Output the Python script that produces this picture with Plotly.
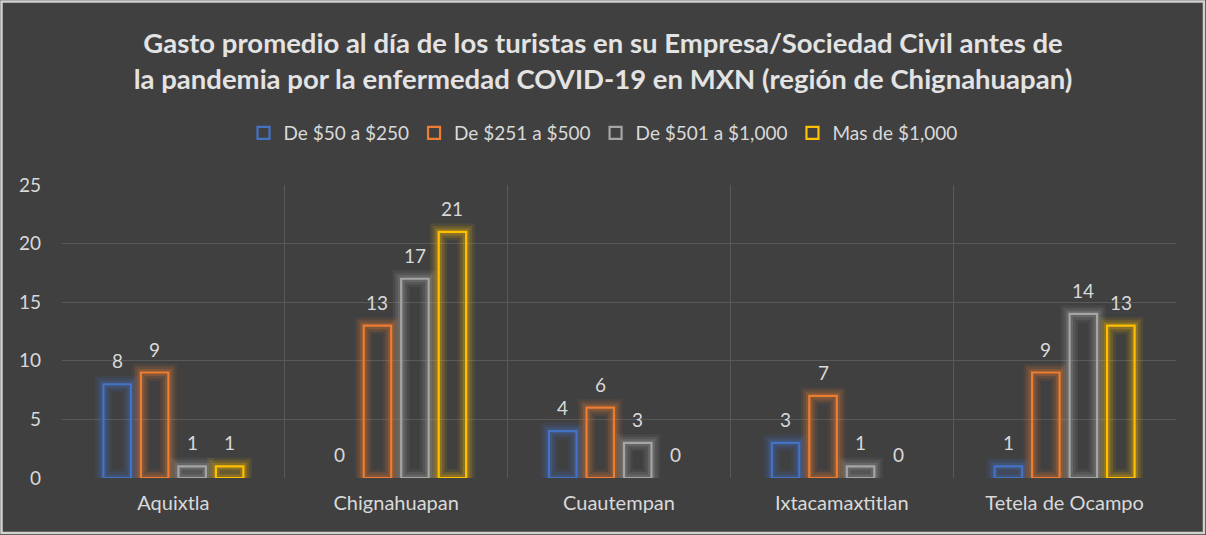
import plotly.graph_objects as go

# Average daily tourist spending per municipality (Chignahuapan region)
municipios = ["Aquixtla", "Chignahuapan", "Cuautempan", "Ixtacamaxtitlan", "Tetela de Ocampo"]
rangos = ["De $50 a $250", "De $251 a $500", "De $501 a $1,000", "Mas de $1,000"]
de_50_a_250 = [8, 0, 4, 3, 1]
de_251_a_500 = [9, 13, 6, 7, 9]
de_501_a_1000 = [1, 17, 3, 1, 14]
mas_de_1000 = [1, 21, 0, 0, 13]
series = [de_50_a_250, de_251_a_500, de_501_a_1000, mas_de_1000]
colores = ["#4472c4", "#ed7d31", "#a5a5a5", "#ffc000"]
y_ticks = [0, 5, 10, 15, 20, 25]

titulo = ("Gasto promedio al día de los turistas en su Empresa/Sociedad Civil antes de<br>"
          "la pandemia por la enfermedad COVID-19 en MXN (región de Chignahuapan)")

BG = "#404040"
TXT = "#d9d9d9"
FONT = "Lato"

W, H = 1206, 535
L, R, T, B = 62, 30, 185, 57
BARGAP = 0.327
BARGROUPGAP = 0.267


def rgba(hex_color, a):
    h = hex_color.lstrip("#")
    r, g, b = int(h[0:2], 16), int(h[2:4], 16), int(h[4:6], 16)
    return f"rgba({r},{g},{b},{a})"


fig = go.Figure()

# Soft glow layers under each outlined bar, then the outlined bar itself
glow_layers = [(17, 0.09), (12, 0.14), (7, 0.22)]
for i, (nombre, valores, color) in enumerate(zip(rangos, series, colores)):
    for lw, a in glow_layers:
        fig.add_trace(go.Bar(
            x=municipios, y=valores, offsetgroup=str(i), showlegend=False,
            hoverinfo="skip",
            marker=dict(color="rgba(0,0,0,0)",
                        line=dict(color=rgba(color, a),
                                  width=[lw if v > 0 else 0 for v in valores])),
        ))
    fig.add_trace(go.Bar(
        x=municipios, y=valores, name=nombre, offsetgroup=str(i),
        marker=dict(color="rgba(0,0,0,0)",
                    line=dict(color=color, width=[2.2 if v > 0 else 0 for v in valores])),
    ))

# Value labels above each bar
plot_w = W - L - R
plot_h = H - T - B
cat_w = plot_w / len(municipios)
slot = cat_w * (1 - BARGAP) / len(series)
for i, valores in enumerate(series):
    for m, v in zip(municipios, valores):
        fig.add_annotation(
            x=m, y=v, xref="x", yref="y", text=str(v), showarrow=False,
            xshift=(i - (len(series) - 1) / 2) * slot, yshift=10, yanchor="bottom",
            font=dict(family=FONT, size=19, color=TXT),
        )

# Outer frame of the chart area
fig.add_shape(
    type="rect", xref="paper", yref="paper",
    x0=(1.5 - L) / plot_w, x1=(W - 2 - L) / plot_w,
    y0=-(B - 2) / plot_h, y1=(H - B - 1.5) / plot_h,
    line=dict(color="#d0d0d0", width=2.5), fillcolor="rgba(0,0,0,0)", layer="below",
)

fig.update_layout(
    width=W, height=H,
    margin=dict(l=L, r=R, t=T, b=B),
    paper_bgcolor=BG, plot_bgcolor=BG,
    barmode="group", bargap=BARGAP, bargroupgap=BARGROUPGAP,
    font=dict(family=FONT, color=TXT, size=18),
    title=dict(text=titulo, x=0.5, xanchor="center", y=1 - 53 / H, yanchor="middle",
               font=dict(family=FONT, size=27.5, color="#e3e3e3", weight="bold")),
    legend=dict(orientation="h", xref="container", yref="container",
                x=0.5, xanchor="center", y=1 - 133 / H, yanchor="middle",
                font=dict(family=FONT, size=19, color=TXT), bgcolor="rgba(0,0,0,0)"),
    showlegend=True,
)
fig.update_xaxes(
    showgrid=True, gridcolor="#595959", gridwidth=1, tickson="boundaries",
    ticks="", showline=False, zeroline=False, ticklabelstandoff=11,
    tickfont=dict(family=FONT, size=20, color=TXT),
)
fig.update_yaxes(
    range=[0, 25], tickvals=y_ticks, showgrid=True, gridcolor="#595959", gridwidth=1,
    zeroline=False, showline=False, ticks="", ticklabelstandoff=20,
    tickfont=dict(family=FONT, size=19, color=TXT),
)

fig.write_html("out.html")
